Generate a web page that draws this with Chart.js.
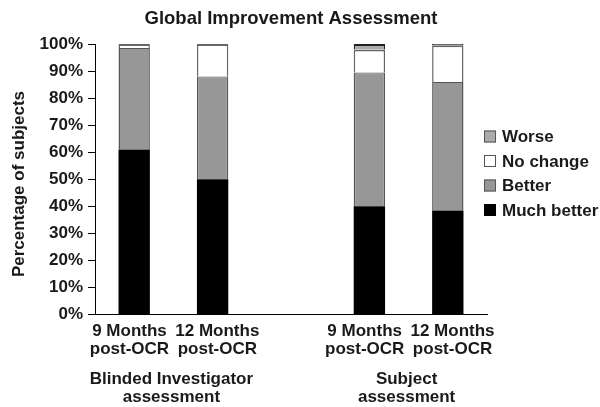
<!DOCTYPE html>
<html>
<head>
<meta charset="utf-8">
<script src="https://cdn.jsdelivr.net/npm/chart.js@4.4.1/dist/chart.umd.min.js"></script>
<style>
  html, body { margin: 0; padding: 0; background: #fff; }
  #wrap { width: 600px; height: 407px; position: relative; }
</style>
</head>
<body>
<div id="wrap"><canvas id="c"></canvas></div>
<script>
const categories = [['9 Months  ', 'post-OCR  '], ['  12 Months', '  post-OCR'], '', ['9 Months  ', 'post-OCR  '], ['  12 Months', '  post-OCR']];
const groupLabels = [['Blinded Investigator', 'assessment'], ['Subject', 'assessment']];
const seriesNames = ['Much better', 'Better', 'No change', 'Worse'];
const muchBetter = [61, 50, null, 40, 38.5];
const better = [37.5, 38, null, 49.5, 47.5];
const noChange = [1.5, 12, null, 8.5, 13.5];
const worse = [0, 0, null, 2, 0.5];
const yTicks = [0, 10, 20, 30, 40, 50, 60, 70, 80, 90, 100];

const FONT = '"Liberation Sans", Arial, Helvetica, sans-serif';
Chart.defaults.font.family = FONT;
Chart.defaults.font.size = 17;
Chart.defaults.font.weight = 'bold';
Chart.defaults.color = '#1a1a1a';

const colors = ['#000000', '#979797', '#ffffff', '#ababab'];
const borders = ['#000000', '#555555', '#666666', '#555555'];
const values = [muchBetter, better, noChange, worse];

const datasets = seriesNames.map((name, i) => ({
  label: name,
  data: values[i],
  backgroundColor: colors[i],
  borderColor: i === 3 ? '#222' : borders[i],
  borderWidth: i === 0 ? 0 : (i >= 2 ? {top: 2, left: 1.5, right: 1.5, bottom: 0} : {top: 1, left: 1.5, right: 1.5, bottom: 0}),
  borderSkipped: 'start',
  barPercentage: 0.8,
  categoryPercentage: 0.5
}));

const extras = {
  id: 'extras',
  afterDraw(chart) {
    const ctx = chart.ctx;
    const x = chart.scales.x;
    ctx.save();
    ctx.font = 'bold 17px ' + FONT;
    ctx.fillStyle = '#1a1a1a';
    ctx.textAlign = 'center';
    ctx.textBaseline = 'middle';
    const pairs = [[0, 1], [3, 4]];
    pairs.forEach((p, gi) => {
      const cx = (x.getPixelForValue(p[0]) + x.getPixelForValue(p[1])) / 2 - 2;
      groupLabels[gi].forEach((line, li) => {
        ctx.fillText(line, cx, 379 + li * 18.5);
      });
    });
    // legend (reverse order)
    const order = [3, 2, 1, 0];
    ctx.textAlign = 'left';
    order.forEach((di, k) => {
      const ds = chart.data.datasets[di];
      const cy = 136.5 + k * 24.5;
      ctx.fillStyle = ds.backgroundColor;
      ctx.fillRect(484, cy - 6, 12, 12);
      ctx.strokeStyle = di === 0 ? '#000' : '#555';
      ctx.lineWidth = 1;
      ctx.strokeRect(484.5, cy - 5.5, 11, 11);
      ctx.fillStyle = '#1a1a1a';
      ctx.fillText(ds.label, 502, cy + 1);
    });
    ctx.restore();
  }
};

new Chart(document.getElementById('c'), {
  type: 'bar',
  data: { labels: categories, datasets },
  options: {
    responsive: true,
    maintainAspectRatio: false,
    animation: false,
    layout: { padding: { left: 0, right: 113, top: 0, bottom: 41 } },
    plugins: {
      legend: { display: false },
      tooltip: { enabled: false },
      title: {
        display: true,
        text: 'Global Improvement Assessment',
        fullSize: false,
        color: '#1a1a1a',
        font: { size: 18.5, weight: 'bold' },
        padding: { top: 8, bottom: 13.8 }
      }
    },
    scales: {
      x: {
        stacked: true,
        grid: { display: false, drawTicks: false },
        border: { display: true, color: '#000', width: 1 },
        ticks: { padding: 7, maxRotation: 0, autoSkip: false, color: '#1a1a1a', font: { size: 17, weight: 'bold', lineHeight: 1.1 } }
      },
      y: {
        stacked: true,
        min: 0,
        max: 100,
        afterFit(s) { s.width = 95; },
        afterBuildTicks(s) { s.ticks = yTicks.map(v => ({ value: v })); },
        grid: { drawOnChartArea: false, color: '#000', tickLength: 7 },
        border: { display: true, color: '#000', width: 1 },
        ticks: { padding: 5, color: '#1a1a1a', font: { size: 17, weight: 'bold' }, callback: v => v + '%' },
        title: { display: true, text: 'Percentage of subjects  ', color: '#1a1a1a', font: { size: 17, weight: 'bold' }, padding: { top: 9, bottom: 0 } }
      }
    }
  },
  plugins: [extras]
});
</script>
</body>
</html>
